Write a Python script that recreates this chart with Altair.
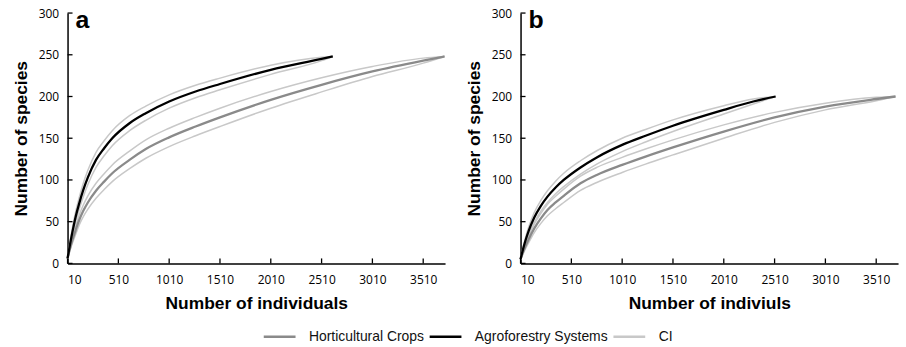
import altair as alt
import pandas as pd

# ---------------- data ----------------
# Panel a : Horticultural Crops
a_hort_x = [10, 30, 60, 90, 125, 165, 210, 290, 370, 450, 620, 780, 1010, 1270, 1510, 2010, 2510, 3010, 3510, 3720]
a_hort_y = [6, 16, 29, 40, 52, 63, 73, 87, 98, 108, 124, 137, 151, 164, 175, 196, 214, 230, 243, 248]
a_hort_hi = [6.5, 18, 33, 45, 58, 70, 81, 96, 107.5, 118, 134.5, 148, 162, 175, 186, 206, 222.5, 236, 246, 248]
a_hort_lo = [5.5, 14, 25, 35, 46, 56, 65, 78, 88.5, 98, 113.5, 126, 140, 153, 164, 186, 205.5, 224, 240, 248]
# Panel a : Agroforestry Systems
a_agro_x = [10, 30, 60, 90, 125, 165, 210, 290, 370, 450, 620, 780, 1010, 1270, 1510, 2010, 2510, 2620]
a_agro_y = [6, 20, 39, 56, 72, 88, 103, 124, 138, 150, 168, 180, 194, 206, 215, 232, 245, 248]
a_agro_hi = [6.5, 23, 44, 62, 79, 96, 111.5, 133, 147, 159, 177, 188.5, 202, 213.5, 222, 237.5, 247, 248]
a_agro_lo = [5.5, 17, 34, 50, 65, 80, 94.5, 115, 129, 141, 159, 171.5, 186, 198.5, 208, 226.5, 243, 248]

# Panel b : Horticultural Crops
b_hort_x = [10, 30, 60, 90, 145, 210, 275, 355, 435, 600, 760, 1010, 1240, 1510, 2010, 2510, 3010, 3510, 3700]
b_hort_y = [5, 12, 21, 29, 42, 54, 64, 73, 81, 96, 106, 118, 128, 139, 158, 175, 188, 197, 200]
b_hort_hi = [5.5, 14, 24, 33, 47, 60, 71, 80.5, 89, 104.5, 115, 127, 137, 148, 166, 181, 192, 199, 200]
b_hort_lo = [4.5, 10, 18, 25, 37, 48, 57, 65.5, 73, 87.5, 97, 109, 119, 130, 150, 169, 184, 195, 200]
# Panel b : Agroforestry Systems
b_agro_x = [10, 30, 60, 90, 145, 210, 275, 355, 435, 600, 760, 1010, 1240, 1510, 2010, 2300, 2520]
b_agro_y = [5, 15, 28, 39, 55, 69, 80, 91, 100, 115, 127, 142, 153, 165, 184, 194, 200]
b_agro_hi = [5.5, 17, 31.5, 43.5, 61, 75.5, 87, 98.5, 108, 123, 135, 150, 160.5, 172, 189, 197, 200]
b_agro_lo = [4.5, 13, 24.5, 34.5, 49, 62.5, 73, 83.5, 92, 107, 119, 134, 145.5, 158, 179, 191, 200]

x_ticks = [10, 510, 1010, 1510, 2010, 2510, 3010, 3510]
y_ticks = [0, 50, 100, 150, 200, 250, 300]
legend_names = ["Horticultural Crops", "Agroforestry Systems", "CI"]
legend_colors = ["#8a8a8a", "#000000", "#c8c8c8"]


def build_rows(xs, ys, name, line_id, kind):
    return [{"x": x, "y": y, "legend": name, "line": line_id, "kind": kind}
            for x, y in zip(xs, ys)]


def panel_df(hx, hy, hhi, hlo, ax, ay, ahi, alo):
    rows = []
    rows += build_rows(hx, hhi, "CI", "h_hi", "ci")
    rows += build_rows(hx, hlo, "CI", "h_lo", "ci")
    rows += build_rows(ax, ahi, "CI", "a_hi", "ci")
    rows += build_rows(ax, alo, "CI", "a_lo", "ci")
    rows += build_rows(hx, hy, "Horticultural Crops", "h", "main")
    rows += build_rows(ax, ay, "Agroforestry Systems", "a", "main")
    return pd.DataFrame(rows)


df_a = panel_df(a_hort_x, a_hort_y, a_hort_hi, a_hort_lo,
                a_agro_x, a_agro_y, a_agro_hi, a_agro_lo)
df_b = panel_df(b_hort_x, b_hort_y, b_hort_hi, b_hort_lo,
                b_agro_x, b_agro_y, b_agro_hi, b_agro_lo)

W, H = 380, 252
color_scale = alt.Scale(domain=legend_names, range=legend_colors)


def panel(df, letter, xtitle):
    xenc = alt.X("x:Q", scale=alt.Scale(domain=[10, 3725], nice=False, zero=False),
                 axis=alt.Axis(values=x_ticks, format="d", title=xtitle,
                               labelPadding=11, titlePadding=9))
    yenc = alt.Y("y:Q", scale=alt.Scale(domain=[0, 300], nice=False),
                 axis=alt.Axis(values=y_ticks, format="d", title="Number of species",
                               labelPadding=9, titlePadding=8))
    ci = alt.Chart(df).transform_filter(alt.datum.kind == "ci").mark_line(
        strokeWidth=1.5, interpolate="monotone"
    ).encode(
        x=xenc, y=yenc,
        color=alt.Color("legend:N", scale=color_scale, title=None),
        detail="line:N",
    )
    main = alt.Chart(df).transform_filter(alt.datum.kind == "main").mark_line(
        strokeWidth=2.3, interpolate="monotone"
    ).encode(
        x=alt.X("x:Q"), y=alt.Y("y:Q"),
        color=alt.Color("legend:N", scale=color_scale, title=None),
        detail="line:N",
    )
    xt = alt.Chart(pd.DataFrame({"t": x_ticks})).mark_rule(
        color="black", strokeWidth=1.3
    ).encode(x=alt.X("t:Q"), y=alt.value(H), y2=alt.value(H - 5))
    yt = alt.Chart(pd.DataFrame({"t": y_ticks})).mark_rule(
        color="black", strokeWidth=1.3
    ).encode(y=alt.Y("t:Q"), x=alt.value(0), x2=alt.value(5))
    lab = alt.Chart(pd.DataFrame({"l": [letter]})).mark_text(
        align="left", baseline="alphabetic", fontSize=25, fontWeight="bold",
        font="Liberation Sans", color="black"
    ).encode(x=alt.value(8), y=alt.value(15), text="l:N")
    return alt.layer(ci, main, xt, yt, lab).properties(width=W, height=H)


pa = panel(df_a, "a", "Number of individuals")
pb = panel(df_b, "b", "Number of indiviuls")

chart = alt.hconcat(pa, pb, spacing=15).resolve_scale(color="shared").properties(
    padding={"left": 12, "top": 6, "right": 5, "bottom": 0}
).configure_view(stroke=None).configure_axis(
    grid=False, ticks=False, domainColor="black", domainWidth=1.5,
    labelFont="Open Sans", labelFontSize=12, labelColor="black",
    titleFont="Liberation Sans", titleFontSize=17.5, titleFontWeight="bold",
    titleColor="black",
).configure_legend(
    orient="none", legendX=196, legendY=308, direction="horizontal",
    symbolType="stroke", symbolSize=1024, symbolStrokeWidth=2.5,
    labelFont="Liberation Sans", labelFontSize=14, labelColor="#111",
    labelOffset=12, columnPadding=0, padding=0,
)

chart.save("out.html", embed_options={"renderer": "svg", "actions": False})
